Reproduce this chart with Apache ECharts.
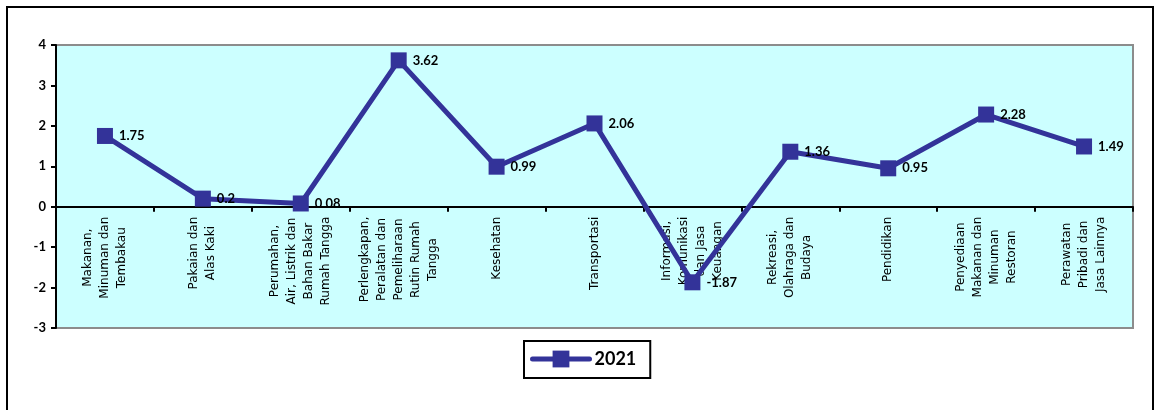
<!DOCTYPE html>
<html>
<head>
<meta charset="utf-8">
<script src="https://cdn.jsdelivr.net/npm/echarts@6/dist/echarts.min.js"></script>
<style>html,body{margin:0;padding:0;background:#fff;}#c{width:1154px;height:410px;}</style>
</head>
<body>
<div id="c"></div>
<script>
var categories = [
  "Makanan,\nMinuman dan\nTembakau",
  "Pakaian dan\nAlas Kaki",
  "Perumahan,\nAir, Listrik dan\nBahan Bakar\nRumah Tangga",
  "Perlengkapan,\nPeralatan dan\nPemeliharaan\nRutin Rumah\nTangga",
  "Kesehatan",
  "Transportasi",
  "Informasi,\nKomunikasi\ndan Jasa\nKeuangan",
  "Rekreasi,\nOlahraga dan\nBudaya",
  "Pendidikan",
  "Penyediaan\nMakanan dan\nMinuman\nRestoran",
  "Perawatan\nPribadi dan\nJasa Lainnya"
];
var values2021 = [1.75, 0.2, 0.08, 3.62, 0.99, 2.06, -1.87, 1.36, 0.95, 2.28, 1.49];
var seriesName = "2021";
var yMin = -3, yMax = 4, yStep = 1;

var FONT = "Lato, 'Open Sans', sans-serif";
var CAT_FONT = "'DejaVu Sans', sans-serif";
var GRID_TOP = 45, GRID_BOTTOM = 82, H = 410;
var plotH = H - GRID_TOP - GRID_BOTTOM;
var zeroOffset = -plotH * (0 - yMin) / (yMax - yMin);

var chart = echarts.init(document.getElementById('c'));
chart.setOption({
  animation: false,
  backgroundColor: '#ffffff',
  graphic: [{
    type: 'rect', z: -10,
    shape: {x: 7, y: 7, width: 1146, height: 430},
    style: {fill: 'none', stroke: '#000', lineWidth: 2}
  }],
  grid: {
    left: 56, right: 21, top: GRID_TOP, bottom: GRID_BOTTOM,
    show: true, backgroundColor: '#CCFFFF', borderColor: '#8c8c8c', borderWidth: 2
  },
  legend: {
    left: 524, top: 341,
    data: [seriesName],
    itemWidth: 57, itemHeight: 21,
    itemGap: 0,
    padding: [9, 14, 10, 6],
    borderColor: '#000', borderWidth: 2,
    lineStyle: {width: 5, cap: 'round'},
    textStyle: {fontFamily: FONT, fontWeight: 'bold', fontSize: 18, color: '#000'}
  },
  xAxis: {
    type: 'category',
    data: categories,
    boundaryGap: true,
    offset: zeroOffset,
    axisLine: {onZero: false, lineStyle: {color: '#000', width: 2}},
    axisTick: {show: true, length: 5, alignWithLabel: false, lineStyle: {color: '#000', width: 2}},
    axisLabel: {
      interval: 0, rotate: 90, margin: 10, color: '#000',
      fontFamily: CAT_FONT, fontSize: 12, lineHeight: 17,
      formatter: function (v) { return v.split('\n').map(function (s) { return '{c|' + s + '}'; }).join('\n'); },
      rich: {c: {align: 'center', fontSize: 12, lineHeight: 17, fontFamily: CAT_FONT, color: '#000'}}
    },
    splitLine: {show: false}
  },
  yAxis: {
    type: 'value', min: yMin, max: yMax, interval: yStep,
    axisLine: {show: true, lineStyle: {color: '#000', width: 2}},
    axisTick: {show: true, length: 5, lineStyle: {color: '#000', width: 2}},
    axisLabel: {margin: 10, color: '#000', fontFamily: FONT, fontWeight: 'bold', fontSize: 13},
    splitLine: {show: false}
  },
  series: [{
    name: seriesName,
    type: 'line',
    data: values2021,
    symbol: 'rect',
    symbolSize: 16,
    lineStyle: {color: '#333399', width: 5},
    itemStyle: {color: '#333399'},
    label: {
      show: true, position: 'right', distance: 6,
      color: '#000', fontFamily: FONT, fontWeight: 'bold', fontSize: 13
    },
    z: 5
  }]
});
</script>
</body>
</html>
